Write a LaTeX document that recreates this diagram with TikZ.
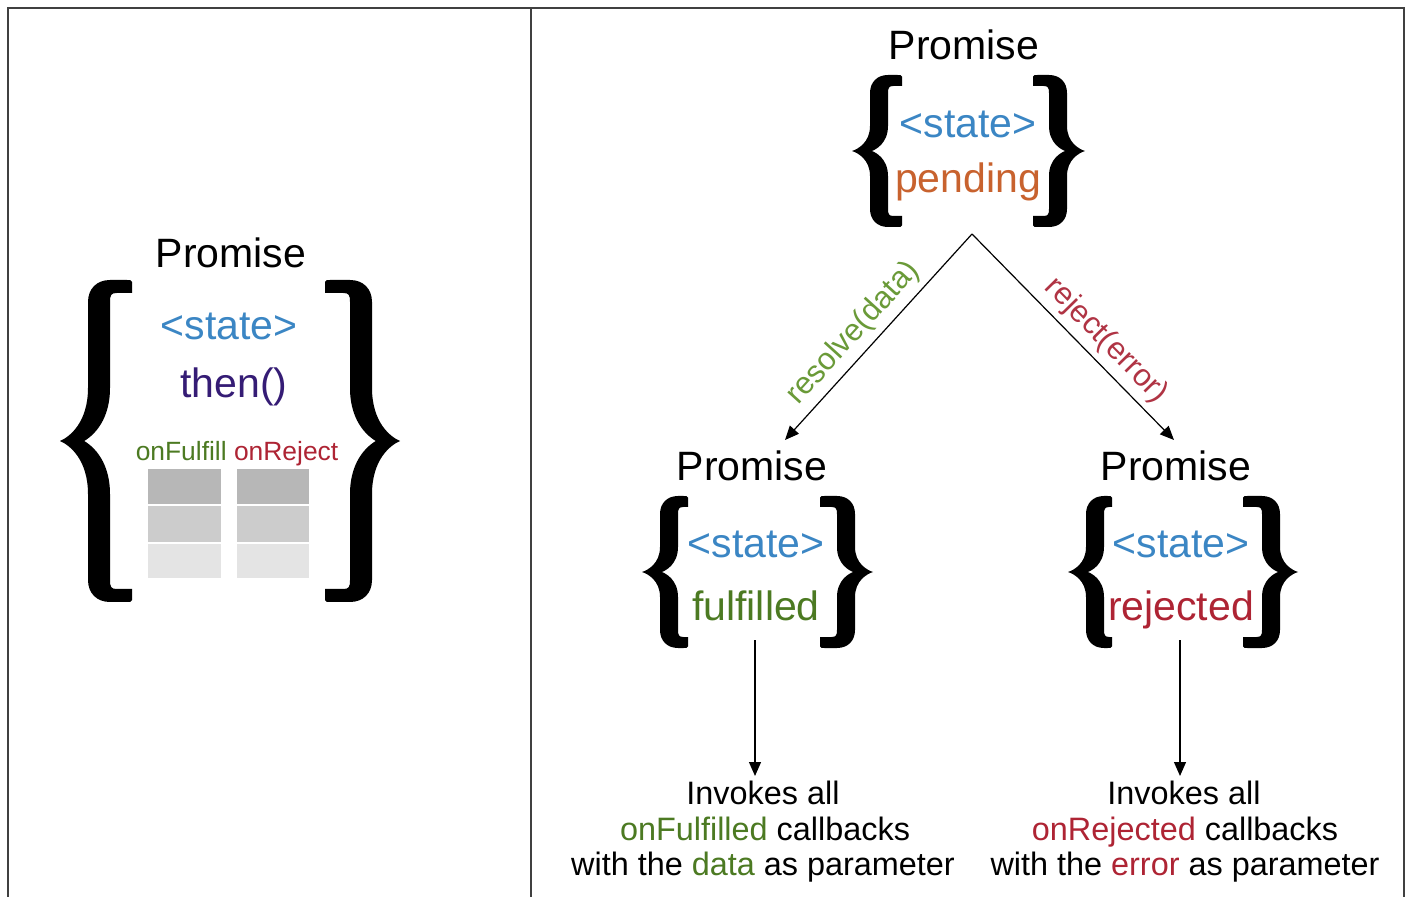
\documentclass[tikz,border=0pt]{standalone}
\usepackage{fontspec}
\setmainfont{Liberation Sans}
\usetikzlibrary{arrows.meta}
\definecolor{stateblue}{HTML}{3B86C4}
\definecolor{pendorange}{HTML}{C8622E}
\definecolor{fulgreen}{HTML}{4C7A22}
\definecolor{lblgreen}{HTML}{6A9A38}
\definecolor{rejred}{HTML}{AE2434}
\definecolor{lblred}{HTML}{B03444}
\definecolor{thenpurple}{HTML}{351C75}
\definecolor{cellA}{HTML}{B7B7B7}
\definecolor{cellB}{HTML}{CCCCCC}
\definecolor{cellC}{HTML}{E4E4E4}
\newcommand\drawcurly[8]{% x y halfheight width dir stemx stemthick armthick
\begin{scope}[shift={(#1,#2)},xscale=#5]
\pgfmathsetmacro\cbH{#3}\pgfmathsetmacro\cbW{#4}%
\pgfmathsetmacro\cbA{#6}\pgfmathsetmacro\cbT{#7}\pgfmathsetmacro\cbM{#8}%
\pgfmathsetmacro\cbR{1.0*\cbT}\pgfmathsetmacro\cbC{0.33*\cbH}\pgfmathsetmacro\cbN{1.1*\cbT}%
\pgfmathsetmacro\cbI{\cbA+\cbT}%
\fill[black] (\cbW,-\cbH+0.15*\cbM) .. controls (\cbW-0.1*\cbM,-\cbH) .. (\cbW-0.4*\cbM,-\cbH) -- (\cbA+\cbR,-\cbH) .. controls (\cbA+0.4*\cbR,-\cbH) and (\cbA,-\cbH+0.4*\cbR) .. (\cbA,-\cbH+\cbR)
 -- (\cbA,-\cbC) .. controls (\cbA,-0.35*\cbC) and (0.35*\cbA,-0.08*\cbC) .. (0,0)
 .. controls (0.35*\cbA,0.08*\cbC) and (\cbA,0.35*\cbC) .. (\cbA,\cbC)
 -- (\cbA,\cbH-\cbR) .. controls (\cbA,\cbH-0.4*\cbR) and (\cbA+0.4*\cbR,\cbH) .. (\cbA+\cbR,\cbH)
 -- (\cbW-0.4*\cbM,\cbH) .. controls (\cbW-0.1*\cbM,\cbH) .. (\cbW,\cbH-0.15*\cbM) -- (\cbW,\cbH-\cbM) -- (\cbI+0.3*\cbT,\cbH-\cbM) .. controls (\cbI+0.05*\cbT,\cbH-\cbM) and (\cbI,\cbH-\cbM-0.1*\cbT) .. (\cbI,\cbH-\cbM-0.4*\cbT)
 -- (\cbI,\cbC) .. controls (\cbI,0.3*\cbC) and (\cbN+0.2*\cbT,0.05*\cbC) .. (\cbN,0)
 .. controls (\cbN+0.2*\cbT,-0.05*\cbC) and (\cbI,-0.3*\cbC) .. (\cbI,-\cbC)
 -- (\cbI,-\cbH+\cbM+0.4*\cbT) .. controls (\cbI,-\cbH+\cbM+0.1*\cbT) and (\cbI+0.05*\cbT,-\cbH+\cbM) .. (\cbI+0.3*\cbT,-\cbH+\cbM)
 -- (\cbW,-\cbH+\cbM) -- cycle;
\end{scope}}
\begin{document}
\begin{tikzpicture}[x=0.5pt,y=-0.5pt,
 big/.style={font=\fontsize{20.5}{24}\selectfont, inner sep=0pt, anchor=base},
 txt/.style={font=\fontsize{16.2}{19}\selectfont, inner sep=0pt, anchor=base},
 lbl/.style={font=\fontsize{15.5}{18}\selectfont, inner sep=3pt, sloped, above},
 smalltxt/.style={font=\fontsize{13.2}{16}\selectfont, inner sep=0pt, anchor=base},
 arr/.style={-{Triangle[length=7pt,width=6pt]}, line width=0.6pt},
 framestyle/.style={line width=1pt, draw=black!75}]
\useasboundingbox (0,0) rectangle (1408,897);
\fill[white] (0,0) rectangle (1408,897);
% frame
\draw[framestyle] (8,897) -- (8,8) -- (1404,8) -- (1404,897);
\draw[framestyle] (531,8) -- (531,897);

% ---------- left panel ----------
\node[big] (lp) at (231,268) {Promise};
\node[big, text=stateblue] (ls) at (229,340) {<state>};
\node[big, text=thenpurple] (lt) at (234,398) {then()};
\node[smalltxt] (lcb) at (237,461) {\textcolor{fulgreen}{onFulfill} \textcolor{rejred}{onReject}};
\drawcurly{60}{441}{161}{72}{1}{28}{22}{13}
\drawcurly{400}{441}{161}{75}{-1}{28}{22}{13}
\fill[cellA] (148,469) rectangle (221,504);
\fill[cellB] (148,506) rectangle (221,542);
\fill[cellC] (148,544) rectangle (221,578);
\fill[cellA] (237,469) rectangle (309,504);
\fill[cellB] (237,506) rectangle (309,542);
\fill[cellC] (237,544) rectangle (309,578);

% ---------- top node ----------
\node[big] (tp) at (964,60) {Promise};
\node[big, text=stateblue] (ts) at (968,138) {<state>};
\node[big, text=pendorange] (tpend) at (968,193) {pending};
\drawcurly{852}{151}{76}{50}{1}{18}{18}{11}
\drawcurly{1085}{151}{76}{52}{-1}{18}{18}{11}

% ---------- fulfilled node ----------
\node[big] (fp) at (752,481) {Promise};
\node[big, text=stateblue] (fs) at (756,558) {<state>};
\node[big, text=fulgreen] (ff) at (756,620) {fulfilled};
\drawcurly{642}{572}{76}{46}{1}{18}{18}{11}
\drawcurly{873}{572}{76}{53}{-1}{18}{18}{11}

% ---------- rejected node ----------
\node[big] (rp) at (1176,481) {Promise};
\node[big, text=stateblue] (rs) at (1181,558) {<state>};
\node[big, text=rejred] (rr) at (1181,620) {rejected};
\drawcurly{1068}{572}{76}{44}{1}{18}{18}{11}
\drawcurly{1298}{572}{76}{55}{-1}{18}{18}{11}

% ---------- bottom texts ----------
\node[txt] (fa) at (763,804) {Invokes all};
\node[txt] (fb) at (765,840) {\textcolor{fulgreen}{onFulfilled} callbacks};
\node[txt] (fc) at (763,875) {with the \textcolor{fulgreen}{data} as parameter};
\node[txt] (ra) at (1184,804) {Invokes all};
\node[txt] (rb) at (1185,840) {\textcolor{rejred}{onRejected} callbacks};
\node[txt] (rc) at (1185,875) {with the \textcolor{rejred}{error} as parameter};

% ---------- connectors ----------
\coordinate (apex) at (972,234);
\coordinate (lend) at (785,440);
\coordinate (rend) at (1174,440);
\coordinate (fstart) at (755,640);
\coordinate (fend) at (755,776);
\coordinate (rstart) at (1180,640);
\coordinate (rendb) at (1180,776);
\draw[arr] (apex) -- node[lbl, pos=0.55, text=lblgreen] (lres) {resolve(data)} (lend);
\draw[arr] (apex) -- node[lbl, pos=0.59, text=lblred] (lrej) {reject(error)} (rend);
\draw[arr] (fstart) -- (fend);
\draw[arr] (rstart) -- (rendb);
\end{tikzpicture}
\end{document}
